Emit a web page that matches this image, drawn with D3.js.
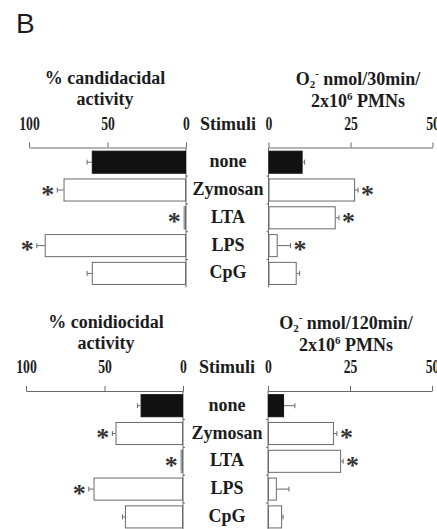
<!DOCTYPE html>
<html>
    <head>
        <title>Candidacidal / conidiocidal activity and O2- release</title>
        <script src="https://d3js.org/d3.v7.min.js"></script>
        <style>
            body {
                margin: 0;
                background: #fff;
            }
            svg {
                display: block;
            }
            text {
                font-family: 'Liberation Serif', 'Times New Roman', serif;
                font-weight: bold;
                fill: #1c1c1c;
            }
        </style>
    </head>
    <body>
        <svg id="chart" width="437" height="529"></svg>
        <script>
            var stimuli = ['none', 'Zymosan', 'LTA', 'LPS', 'CpG'];

            // top: Candida
            var candidacidal = [60, 78, 1.5, 90, 60];
            var candidacidalErr = [3, 4, 0, 5, 3];
            var candidacidalSig = [false, true, true, true, false];
            var superoxide30 = [10.4, 26.4, 20.5, 2.8, 8.6];
            var superoxide30Err = [0.6, 0.9, 1.0, 3.9, 0.9];
            var superoxide30Sig = [false, true, true, true, false];

            // bottom: Aspergillus conidia
            var conidiocidal = [27, 43, 1.5, 57, 37];
            var conidiocidalErr = [2, 2, 0, 3, 1.5];
            var conidiocidalSig = [false, true, true, true, false];
            var superoxide120 = [4.9, 20.1, 22.3, 2.7, 4.3];
            var superoxide120Err = [3.3, 0.9, 0.6, 3.7, 0.3];
            var superoxide120Sig = [false, true, true, false, false];

            var leftTicks = [100, 50, 0];
            var rightTicks = [0, 25, 50];

            var svg = d3.select('#chart');
            var lineColor = '#6a6a6a';

            svg.append('text')
                .attr('x', 16)
                .attr('y', 33)
                .style('font-family', "'Liberation Sans', Arial, sans-serif")
                .style('font-weight', 'normal')
                .style('font-size', '28px')
                .text('B');

            function drawPanel(p) {
                var g = svg.append('g');
                var axisY = p.axisY;

                var xL = d3.scaleLinear().domain([0, 100]).range([p.leftZero, p.leftZero - 157]);
                var xR = d3.scaleLinear().domain([0, 50]).range([p.rightZero, p.rightZero + 164]);
                var y = d3
                    .scaleBand()
                    .domain(stimuli)
                    .range([axisY + 0.8, axisY + 139.8])
                    .paddingInner(0.17)
                    .paddingOuter(0.085);

                // titles
                var lt = g.append('text').attr('text-anchor', 'middle').style('font-size', '18px');
                lt.append('tspan').attr('x', p.leftTitleX).attr('y', axisY - 63.5).text(p.leftTitle);
                lt.append('tspan').attr('x', p.leftTitleX).attr('y', axisY - 42.5).text('activity');

                var rt = g.append('text').attr('text-anchor', 'middle').style('font-size', '18px');
                var r1 = rt.append('tspan').attr('x', p.rightTitleX).attr('y', axisY - 62.5);
                r1.append('tspan').text('O');
                r1.append('tspan').attr('dy', 3).style('font-size', '11px').text('2');
                r1.append('tspan').attr('dy', -11).style('font-size', '11px').text('-');
                r1.append('tspan').attr('dy', 8).text(' nmol/' + p.minutes + 'min/');
                var r2 = rt.append('tspan').attr('x', p.rightTitleX).attr('y', axisY - 40.5);
                r2.append('tspan').text('2x10');
                r2.append('tspan').attr('dy', -7).style('font-size', '11px').text('6');
                r2.append('tspan').attr('dy', 7).text(' PMNs');

                g.append('text')
                    .attr('x', p.stimuliX)
                    .attr('y', axisY - 18)
                    .attr('text-anchor', 'middle')
                    .style('font-size', '18px')
                    .text('Stimuli');

                // value axes
                [
                    [xL, leftTicks],
                    [xR, rightTicks],
                ].forEach(function (a) {
                    var ax = g
                        .append('g')
                        .attr('transform', 'translate(0,' + axisY + ')')
                        .call(d3.axisTop(a[0]).tickValues(a[1]).tickSize(5).tickSizeOuter(0).tickPadding(13));
                    ax.selectAll('path, line').attr('stroke', lineColor);
                    ax.selectAll('text')
                        .attr('fill', '#1c1c1c')
                        .attr('transform', 'scale(0.76,1)')
                        .style('font-size', '18px');
                    ax.attr('font-family', null).attr('font-size', null);
                });

                // zero lines with category ticks between the bars
                var bottom = y.range()[1];
                var gap = (y.step() * y.paddingInner()) / 2;
                [
                    [p.leftZero, 2],
                    [p.rightZero, -2],
                ].forEach(function (z) {
                    g.append('line')
                        .attr('x1', z[0])
                        .attr('x2', z[0])
                        .attr('y1', axisY)
                        .attr('y2', bottom)
                        .attr('stroke', lineColor);
                    g.selectAll(null)
                        .data(stimuli.slice(1))
                        .enter()
                        .append('line')
                        .attr('x1', z[0])
                        .attr('x2', z[0] + z[1])
                        .attr('y1', (d) => y(d) - gap)
                        .attr('y2', (d) => y(d) - gap)
                        .attr('stroke', lineColor);
                });

                // bars
                function bars(x, vals, errs, sig, dir) {
                    var rows = stimuli.map(function (s, i) {
                        return { name: s, v: vals[i], e: errs[i], sig: sig[i] };
                    });
                    var bg = g.append('g');
                    bg.selectAll('rect')
                        .data(rows)
                        .enter()
                        .append('rect')
                        .attr('x', (d) => Math.min(x(0), x(d.v)) + 0.5)
                        .attr('y', (d) => y(d.name) + 0.5)
                        .attr('width', (d) => Math.max(Math.abs(x(d.v) - x(0)) - 1, 0.5))
                        .attr('height', y.bandwidth() - 1)
                        .attr('fill', (d) => (d.name == 'none' ? '#111' : '#fff'))
                        .attr('stroke', (d) => (d.name == 'none' ? '#111' : lineColor));

                    var eb = rows.filter((d) => d.e > 0);
                    bg.selectAll('line.err')
                        .data(eb)
                        .enter()
                        .append('line')
                        .attr('class', 'err')
                        .attr('x1', (d) => x(d.v))
                        .attr('x2', (d) => x(d.v + d.e))
                        .attr('y1', (d) => y(d.name) + y.bandwidth() / 2)
                        .attr('y2', (d) => y(d.name) + y.bandwidth() / 2)
                        .attr('stroke', lineColor);
                    bg.selectAll('line.cap')
                        .data(eb)
                        .enter()
                        .append('line')
                        .attr('class', 'cap')
                        .attr('x1', (d) => x(d.v + d.e))
                        .attr('x2', (d) => x(d.v + d.e))
                        .attr('y1', (d) => y(d.name) + y.bandwidth() / 2 - 2.5)
                        .attr('y2', (d) => y(d.name) + y.bandwidth() / 2 + 2.5)
                        .attr('stroke', lineColor);

                    bg.selectAll('text')
                        .data(rows.filter((d) => d.sig))
                        .enter()
                        .append('text')
                        .attr('x', (d) => x(d.v + d.e) + dir * 9.5)
                        .attr('y', (d) => y(d.name) + y.bandwidth() / 2 + 12.5)
                        .attr('text-anchor', 'middle')
                        .style('font-size', '26px')
                        .style('fill', '#333')
                        .text('*');
                }
                bars(xL, p.left, p.leftErr, p.leftSig, -1);
                bars(xR, p.right, p.rightErr, p.rightSig, 1);

                // stimulus names
                g.selectAll('text.stim')
                    .data(stimuli)
                    .enter()
                    .append('text')
                    .attr('class', 'stim')
                    .attr('x', p.stimuliX)
                    .attr('y', (d) => y(d) + y.bandwidth() / 2 + 5)
                    .attr('text-anchor', 'middle')
                    .style('font-size', '18px')
                    .text((d) => d);
            }

            drawPanel({
                axisY: 147.5,
                leftZero: 186,
                rightZero: 268.5,
                leftTitleX: 105,
                rightTitleX: 358,
                stimuliX: 228,
                leftTitle: '% candidacidal',
                minutes: 30,
                left: candidacidal,
                leftErr: candidacidalErr,
                leftSig: candidacidalSig,
                right: superoxide30,
                rightErr: superoxide30Err,
                rightSig: superoxide30Sig,
            });

            drawPanel({
                axisY: 391,
                leftZero: 183,
                rightZero: 268,
                leftTitleX: 106,
                rightTitleX: 346,
                stimuliX: 227,
                leftTitle: '% conidiocidal',
                minutes: 120,
                left: conidiocidal,
                leftErr: conidiocidalErr,
                leftSig: conidiocidalSig,
                right: superoxide120,
                rightErr: superoxide120Err,
                rightSig: superoxide120Sig,
            });
        </script>
    </body>
</html>
